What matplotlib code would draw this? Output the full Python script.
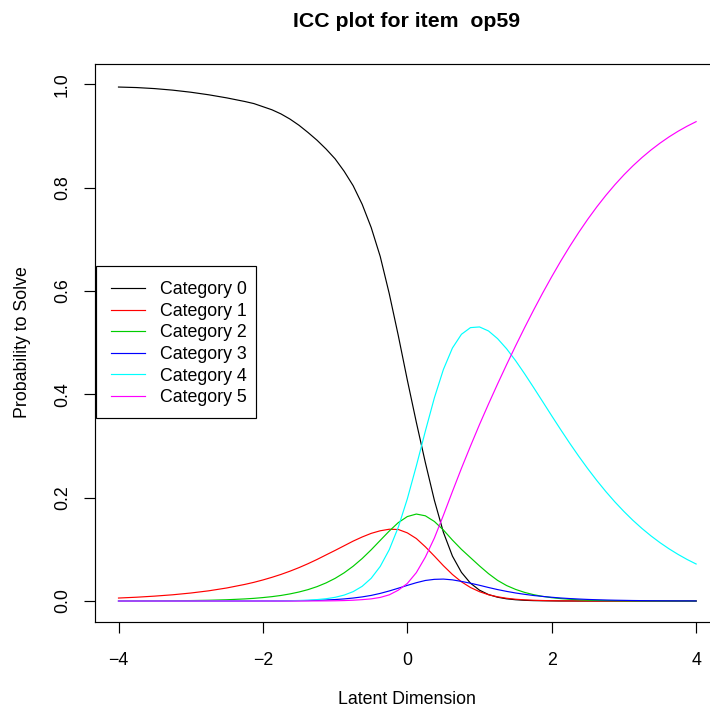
import matplotlib
matplotlib.use("Agg")
import matplotlib.pyplot as plt
from matplotlib.patches import Rectangle

# values (probability per category along the latent scale)
theta = [-4, -3.75, -3.5, -3.25, -3, -2.75, -2.5, -2.25,
         -2.125, -2, -1.875, -1.75, -1.625, -1.5, -1.375, -1.25, -1.125, -1, -0.875, -0.75,
         -0.625, -0.5, -0.375, -0.25, -0.125, 0, 0.125, 0.25, 0.375, 0.5, 0.625, 0.75, 0.875, 1,
         1.125, 1.25, 1.375, 1.5, 1.625, 1.75, 1.875, 2, 2.125, 2.25, 2.375, 2.5, 2.625, 2.75,
         2.875, 3, 3.125, 3.25, 3.375, 3.5, 3.625, 3.75, 3.875, 4]
cat0 = [0.995, 0.994, 0.992, 0.989, 0.985, 0.980, 0.974, 0.967,
        0.963, 0.957, 0.951, 0.943, 0.933, 0.921, 0.907, 0.892, 0.875, 0.856, 0.832, 0.804,
        0.768, 0.723, 0.667, 0.595, 0.514, 0.428, 0.346, 0.268, 0.195, 0.133, 0.087, 0.0555, 0.0345, 0.0210,
        0.0125, 0.0074, 0.0043, 0.0025, 0.0014, 0.0008, 0.0005, 0.0003, 0.0001, 0.0001, 0.0, 0.0, 0.0, 0.0,
        0.0, 0.0, 0.0, 0.0, 0.0, 0.0, 0.0, 0.0, 0.0, 0.0]
cat1 = [0.0058, 0.0074, 0.0095, 0.0121, 0.0155, 0.0198, 0.0253, 0.0322,
        0.0362, 0.0408, 0.0459, 0.0515, 0.0578, 0.0647, 0.0723, 0.0805, 0.0893, 0.0980, 0.1070, 0.1160,
        0.1240, 0.1310, 0.1360, 0.1390, 0.1385, 0.1320, 0.1210, 0.1050, 0.0870, 0.0684, 0.0514, 0.0372, 0.0262, 0.0181,
        0.0122, 0.0082, 0.0054, 0.0035, 0.0023, 0.0015, 0.0010, 0.0006, 0.0004, 0.0002, 0.0002, 0.0001, 0.0, 0.0,
        0.0, 0.0, 0.0, 0.0, 0.0, 0.0, 0.0, 0.0, 0.0, 0.0]
cat2 = [0.0001, 0.0002, 0.0003, 0.0006, 0.0009, 0.0015, 0.0025, 0.0041,
        0.0052, 0.0067, 0.0085, 0.0108, 0.0138, 0.0175, 0.0221, 0.0279, 0.0351, 0.0439, 0.0546, 0.0674,
        0.0823, 0.0992, 0.1174, 0.1355, 0.1518, 0.1635, 0.1684, 0.1650, 0.1540, 0.1375, 0.1180, 0.1000, 0.0840, 0.0680,
        0.0530, 0.0400, 0.0300, 0.0225, 0.0167, 0.0123, 0.0090, 0.0065, 0.0047, 0.0034, 0.0024, 0.0017, 0.0012, 0.0009,
        0.0006, 0.0004, 0.0003, 0.0002, 0.0002, 0.0001, 0.0001, 0.0001, 0.0, 0.0]
cat3 = [0.0, 0.0, 0.0, 0.0, 0.0, 0.0, 0.0, 0.0001,
        0.0001, 0.0002, 0.0002, 0.0003, 0.0005, 0.0007, 0.0010, 0.0014, 0.0021, 0.0029, 0.0041, 0.0058,
        0.0080, 0.0109, 0.0148, 0.0195, 0.0248, 0.0303, 0.0355, 0.0398, 0.0420, 0.0425, 0.0410, 0.0380, 0.0345, 0.0305,
        0.0262, 0.0222, 0.0187, 0.0156, 0.0130, 0.0107, 0.0089, 0.0073, 0.0059, 0.0048, 0.0039, 0.0031, 0.0025, 0.0020,
        0.0016, 0.0013, 0.0010, 0.0008, 0.0006, 0.0005, 0.0004, 0.0003, 0.0003, 0.0002]
cat4 = [0.0, 0.0, 0.0, 0.0, 0.0, 0.0, 0.0, 0.0001,
        0.0001, 0.0001, 0.0002, 0.0004, 0.0006, 0.0011, 0.0017, 0.0028, 0.0045, 0.0072, 0.0115, 0.0182,
        0.0285, 0.0441, 0.0670, 0.0994, 0.1429, 0.1977, 0.2615, 0.3290, 0.3934, 0.4483, 0.4898, 0.5164, 0.5293, 0.5306,
        0.5228, 0.5080, 0.4884, 0.4653, 0.4399, 0.4132, 0.3860, 0.3586, 0.3317, 0.3054, 0.2802, 0.2561, 0.2333, 0.2119,
        0.1919, 0.1734, 0.1562, 0.1405, 0.1261, 0.1130, 0.1011, 0.0903, 0.0805, 0.0717]
cat5 = [0.0, 0.0, 0.0, 0.0, 0.0, 0.0, 0.0, 0.0,
        0.0, 0.0, 0.0, 0.0, 0.0, 0.0001, 0.0001, 0.0002, 0.0003, 0.0005, 0.0009, 0.0016,
        0.0027, 0.0042, 0.0070, 0.0120, 0.0210, 0.0340, 0.0550, 0.0850, 0.1220, 0.1660, 0.2120, 0.2570, 0.3000, 0.3417,
        0.3815, 0.4201, 0.4576, 0.4940, 0.5293, 0.5634, 0.5963, 0.6278, 0.6580, 0.6866, 0.7137, 0.7392, 0.7631, 0.7853,
        0.8059, 0.8250, 0.8425, 0.8585, 0.8731, 0.8864, 0.8985, 0.9094, 0.9192, 0.9280]

labels = ["Category 0", "Category 1", "Category 2", "Category 3", "Category 4", "Category 5"]
colors = ["black", "#FF0000", "#00CD00", "#0000FF", "#00FFFF", "#FF00FF"]
xticks = [-4, -2, 0, 2, 4]
yticks = [0.0, 0.2, 0.4, 0.6, 0.8, 1.0]
ytick_labels = ["0.0", "0.2", "0.4", "0.6", "0.8", "1.0"]

plt.rcParams['font.family'] = ['Liberation Sans', 'DejaVu Sans']
fs = 12.8

W, H = 710, 706
fig = plt.figure(figsize=(W / 100, H / 100), dpi=100)
left, right, top, bottom = 95.4, 709.5, 63.8, 621.7
ax = fig.add_axes([left / W, 1 - bottom / H, (right - left) / W, (bottom - top) / H])

for vals, col, lab in zip([cat0, cat1, cat2, cat3, cat4, cat5], colors, labels):
    ax.plot(theta, vals, color=col, lw=0.85, label=lab)

ax.set_xlim(-4.32, -4.32 + (right - left) / 72.2)
ax.set_ylim(-0.04, 1.04)
ax.spines['right'].set_visible(False)
for s in ['top', 'bottom', 'left']:
    ax.spines[s].set_linewidth(0.85)

ax.set_xticks(xticks)
ax.set_xticklabels([str(t).replace('-', '\u2212') for t in xticks], fontsize=fs)
ax.set_yticks(yticks)
ax.set_yticklabels(ytick_labels, fontsize=fs, rotation=90, va='center')
ax.tick_params(axis='x', length=7.7, width=0.85, pad=14)
ax.tick_params(axis='y', length=7.7, width=0.85, pad=10)

fig.text(407 / W, 1 - 27 / H, "ICC plot for item  op59", fontsize=15.3, fontweight='bold',
         ha='center', va='baseline')
fig.text(407 / W, 1 - 699 / H, "Latent Dimension", fontsize=fs, ha='center', va='center')
fig.text(23 / W, 1 - 342 / H, "Probability to Solve", fontsize=fs, ha='center', va='center',
         rotation=90)

# legend entries without frame; the box is drawn separately (R-style, tighter on the right)
leg = ax.legend(loc='upper left', bbox_to_anchor=(0.001, (bottom - 266) / (bottom - top)),
                borderaxespad=0, fontsize=fs, frameon=False,
                handlelength=1.9, handletextpad=0.85, labelspacing=0.26, borderpad=0.85)
leg.set_zorder(6)
box = Rectangle((96 / W, 1 - 418 / H), 160 / W, 152 / H, transform=fig.transFigure,
                facecolor='white', edgecolor='black', linewidth=0.85, zorder=5, clip_on=False)
ax.add_patch(box)

fig.savefig("out.png", dpi=100)
